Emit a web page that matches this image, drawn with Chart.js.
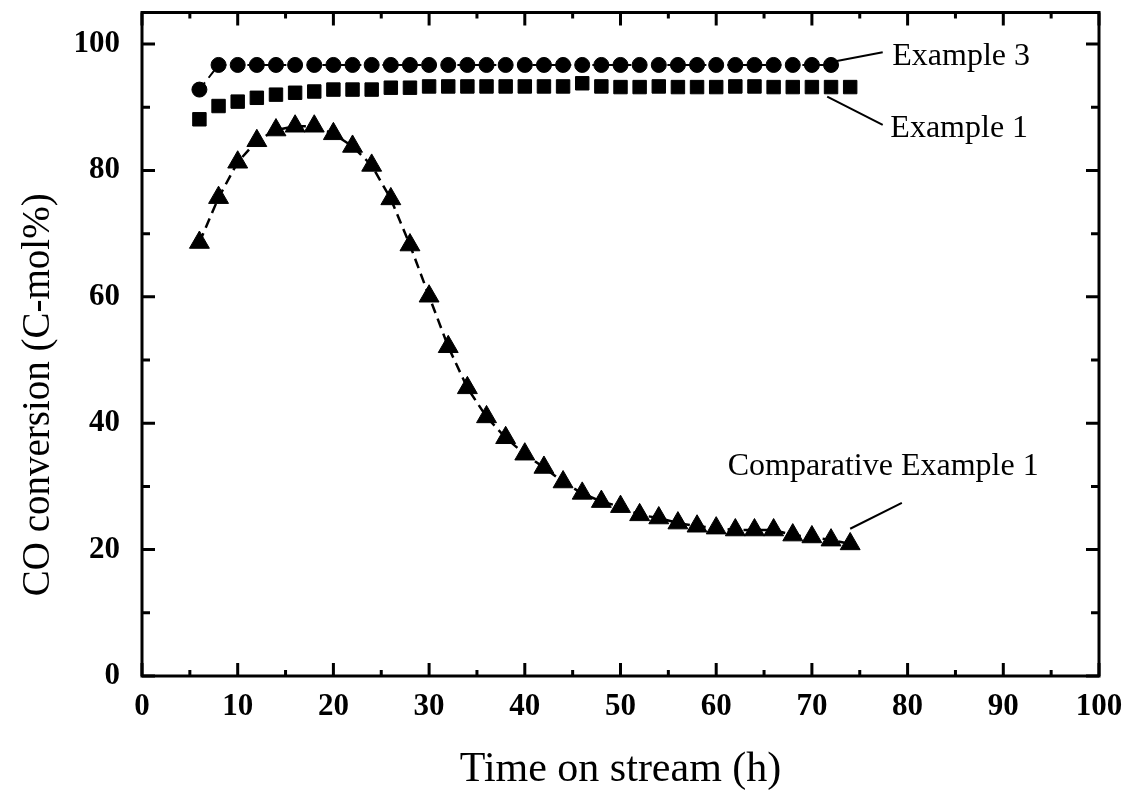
<!DOCTYPE html>
<html>
<head>
<meta charset="utf-8">
<script src="https://cdn.jsdelivr.net/npm/chart.js@4.4.1/dist/chart.umd.min.js"></script>
<style>
  html, body { margin: 0; padding: 0; background: #ffffff; }
  #wrap { width: 1139px; height: 796px; position: relative; }
</style>
</head>
<body>
<div id="wrap"><canvas id="c"></canvas></div>
<script>
// ---------- data ----------
const timeEx3 = [6, 8, 10, 12, 14, 16, 18, 20, 22, 24, 26, 28, 30, 32, 34, 36, 38, 40,
                 42, 44, 46, 48, 50, 52, 54, 56, 58, 60, 62, 64, 66, 68, 70, 72];
const example3 = [92.8, 96.7, 96.7, 96.7, 96.7, 96.7, 96.7, 96.7, 96.7, 96.7, 96.7, 96.7,
                  96.7, 96.7, 96.7, 96.7, 96.7, 96.7, 96.7, 96.7, 96.7, 96.7, 96.7, 96.7,
                  96.7, 96.7, 96.7, 96.7, 96.7, 96.7, 96.7, 96.7, 96.7, 96.7];

const timeEx1 = [6, 8, 10, 12, 14, 16, 18, 20, 22, 24, 26, 28, 30, 32, 34, 36, 38, 40,
                 42, 44, 46, 48, 50, 52, 54, 56, 58, 60, 62, 64, 66, 68, 70, 72, 74];
const example1 = [88.1, 90.2, 90.9, 91.5, 92.0, 92.3, 92.5, 92.8, 92.8, 92.8, 93.1, 93.1,
                  93.3, 93.3, 93.3, 93.3, 93.3, 93.3, 93.3, 93.3, 93.8, 93.3, 93.2, 93.2,
                  93.3, 93.2, 93.2, 93.2, 93.3, 93.3, 93.2, 93.2, 93.2, 93.2, 93.2];

const timeComp = [6, 8, 10, 12, 14, 16, 18, 20, 22, 24, 26, 28, 30, 32, 34, 36, 38, 40,
                  42, 44, 46, 48, 50, 52, 54, 56, 58, 60, 62, 64, 66, 68, 70, 72, 74];
const comparative1 = [68.6, 75.7, 81.3, 84.7, 86.4, 87.0, 87.0, 85.8, 83.8, 80.8, 75.5, 68.2,
                      60.1, 52.1, 45.6, 41.0, 37.7, 35.1, 33.0, 30.7, 28.9, 27.6, 26.8, 25.5,
                      25.0, 24.2, 23.7, 23.4, 23.1, 23.1, 23.1, 22.3, 22.0, 21.5, 20.9];

const xMajorTicks = [0, 10, 20, 30, 40, 50, 60, 70, 80, 90, 100];
const xMinorTicks = [5, 15, 25, 35, 45, 55, 65, 75, 85, 95];
const yMajorTicks = [0, 20, 40, 60, 80, 100];
const yMinorTicks = [10, 30, 50, 70, 90];

const xTitle = 'Time on stream (h)';
const yTitle = 'CO conversion (C-mol%)';

// annotation labels (data units) and their leader lines
const labelTexts = ['Example 3', 'Example 1', 'Comparative Example 1'];
const labelX = [78.4, 78.2, 61.2];
const labelY = [98.1, 86.6, 33.1];
const leaderFromX = [72.2, 71.6, 74.0];
const leaderFromY = [97.2, 91.7, 23.3];
const leaderToX = [77.4, 77.4, 79.4];
const leaderToY = [98.7, 87.2, 27.4];

// ---------- helpers ----------
const pts = (xs, ys) => xs.map((x, i) => ({ x: x, y: ys[i] }));
const SERIF = '"Liberation Serif", "Times New Roman", serif';

const framePlugin = {
  id: 'frame',
  afterDraw(chart) {
    const ctx = chart.ctx;
    const xs = chart.scales.x, ys = chart.scales.y;
    const a = chart.chartArea;
    ctx.save();
    ctx.strokeStyle = '#000';
    ctx.lineWidth = 3;
    ctx.lineCap = 'butt';
    ctx.strokeRect(a.left, a.top, a.right - a.left, a.bottom - a.top);

    const major = 13, minor = 6;
    ctx.beginPath();
    xMajorTicks.forEach(v => {
      const px = xs.getPixelForValue(v);
      ctx.moveTo(px, a.bottom); ctx.lineTo(px, a.bottom - major);
      ctx.moveTo(px, a.top); ctx.lineTo(px, a.top + major);
    });
    xMinorTicks.forEach(v => {
      const px = xs.getPixelForValue(v);
      ctx.moveTo(px, a.bottom); ctx.lineTo(px, a.bottom - minor);
      ctx.moveTo(px, a.top); ctx.lineTo(px, a.top + minor);
    });
    yMajorTicks.forEach(v => {
      const py = ys.getPixelForValue(v);
      ctx.moveTo(a.left, py); ctx.lineTo(a.left + major, py);
      ctx.moveTo(a.right, py); ctx.lineTo(a.right - major, py);
    });
    yMinorTicks.forEach(v => {
      const py = ys.getPixelForValue(v);
      ctx.moveTo(a.left, py); ctx.lineTo(a.left + minor + 2, py);
      ctx.moveTo(a.right, py); ctx.lineTo(a.right - minor - 2, py);
    });
    ctx.stroke();

    // leader lines
    ctx.lineWidth = 2;
    ctx.beginPath();
    for (let i = 0; i < labelTexts.length; i++) {
      ctx.moveTo(xs.getPixelForValue(leaderFromX[i]), ys.getPixelForValue(leaderFromY[i]));
      ctx.lineTo(xs.getPixelForValue(leaderToX[i]), ys.getPixelForValue(leaderToY[i]));
    }
    ctx.stroke();

    // labels
    ctx.fillStyle = '#000';
    ctx.font = '32px ' + SERIF;
    ctx.textAlign = 'left';
    ctx.textBaseline = 'middle';
    for (let i = 0; i < labelTexts.length; i++) {
      ctx.fillText(labelTexts[i], xs.getPixelForValue(labelX[i]), ys.getPixelForValue(labelY[i]));
    }

    // y axis title
    ctx.save();
    ctx.font = '39px ' + SERIF;
    ctx.textAlign = 'center';
    ctx.textBaseline = 'middle';
    ctx.translate(39, ys.getPixelForValue(44.5));
    ctx.rotate(-Math.PI / 2);
    ctx.fillText(yTitle, 0, 0);
    ctx.restore();

    ctx.restore();
  }
};

new Chart(document.getElementById('c'), {
  type: 'scatter',
  data: {
    datasets: [
      {
        label: 'Example 3',
        data: pts(timeEx3, example3),
        showLine: true,
        borderColor: '#000',
        borderWidth: 2,
        borderDash: [9, 6],
        pointStyle: 'circle',
        pointRadius: 7.5,
        pointBackgroundColor: '#000',
        pointBorderColor: '#000',
        pointBorderWidth: 1
      },
      {
        label: 'Example 1',
        data: pts(timeEx1, example1),
        showLine: false,
        pointStyle: 'rect',
        pointRadius: 9.5,
        pointBackgroundColor: '#000',
        pointBorderColor: '#000',
        pointBorderWidth: 1
      },
      {
        label: 'Comparative Example 1',
        data: pts(timeComp, comparative1),
        showLine: true,
        borderColor: '#000',
        borderWidth: 2.5,
        borderDash: [10, 6],
        pointStyle: 'triangle',
        pointRadius: 11.5,
        pointBackgroundColor: '#000',
        pointBorderColor: '#000',
        pointBorderWidth: 1
      }
    ]
  },
  options: {
    responsive: true,
    maintainAspectRatio: false,
    animation: false,
    events: [],
    layout: { padding: { left: 0, right: 40, top: 10, bottom: 0 } },
    plugins: { legend: { display: false }, tooltip: { enabled: false } },
    scales: {
      x: {
        type: 'linear',
        min: 0, max: 100,
        afterBuildTicks: s => { s.ticks = xMajorTicks.map(v => ({ value: v })); },
        afterFit: s => { s.height = 120; s.paddingLeft = 0; s.paddingRight = 0; },
        grid: { display: false, drawTicks: false, tickLength: 0 },
        border: { display: false },
        ticks: {
          autoSkip: false, maxRotation: 0, padding: 12, color: '#000',
          font: { family: SERIF, size: 31, weight: 'bold' }
        },
        title: {
          display: true, text: xTitle, color: '#000',
          font: { family: SERIF, size: 42 },
          padding: { top: 0, bottom: 1 }
        }
      },
      y: {
        type: 'linear',
        min: 0, max: 105,
        afterBuildTicks: s => { s.ticks = yMajorTicks.map(v => ({ value: v })); },
        afterFit: s => { s.width = 142; s.paddingTop = 0; s.paddingBottom = 0; },
        grid: { display: false, drawTicks: false, tickLength: 0 },
        border: { display: false },
        ticks: {
          autoSkip: false, padding: 22, color: '#000',
          font: { family: SERIF, size: 31, weight: 'bold' }
        }
      }
    }
  },
  plugins: [framePlugin]
});
</script>
</body>
</html>
